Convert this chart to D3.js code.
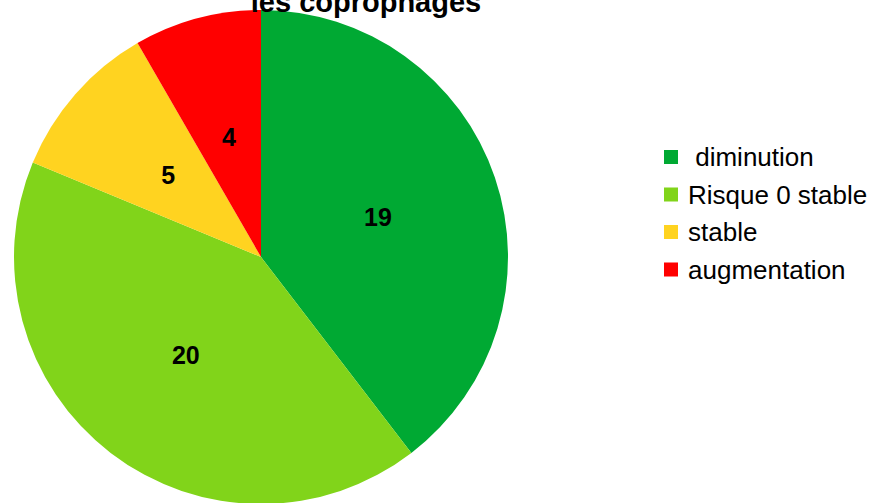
<!DOCTYPE html>
<html><head><meta charset="utf-8">
<script src="https://cdn.jsdelivr.net/npm/d3@7"></script>
<style>body{margin:0;background:#fff}svg{display:block}</style>
</head><body>
<script>
const categories = [" diminution", "Risque 0 stable", "stable", "augmentation"];
const values = [19, 20, 5, 4];
const colors = ["#00A933", "#81D41A", "#FFD320", "#FF0000"];
const titleLines = ["les coprophages"];

const W = 870, H = 503;
const svg = d3.select("body").append("svg").attr("width", W).attr("height", H);
const cx = 261, cy = 257, R = 247;

const pie = d3.pie().sort(null).value(d => d)(values);
const arc = d3.arc().innerRadius(0).outerRadius(R);
const g = svg.append("g").attr("transform", `translate(${cx},${cy})`);
g.selectAll("path").data(pie).join("path")
  .attr("d", arc).attr("fill", (d, i) => colors[i]);
g.selectAll("text").data(pie).join("text")
  .attr("transform", d => `translate(${arc.centroid(d)})`)
  .attr("text-anchor", "middle").attr("dy", "0.35em")
  .attr("font-family", "Liberation Sans, Arial, sans-serif")
  .attr("font-weight", "bold").attr("font-size", 25)
  .text(d => d.data);

svg.append("text").attr("x", 366).attr("y", 12)
  .attr("text-anchor", "middle")
  .attr("font-family", "Liberation Sans, Arial, sans-serif")
  .attr("font-weight", "bold").attr("font-size", 29)
  .text(titleLines[0]);

const leg = svg.append("g");
const rows = leg.selectAll("g").data(categories).join("g")
  .attr("transform", (d, i) => `translate(664,${157 + i * 37.5})`);
rows.append("rect").attr("x", 0).attr("y", -7).attr("width", 14).attr("height", 14)
  .attr("fill", (d, i) => colors[i]);
rows.append("text").attr("x", 24).attr("dy", "0.35em")
  .attr("font-family", "Liberation Sans, Arial, sans-serif")
  .attr("font-size", 26).attr("xml:space", "preserve").style("white-space", "pre")
  .text(d => d);
</script>
</body></html>
